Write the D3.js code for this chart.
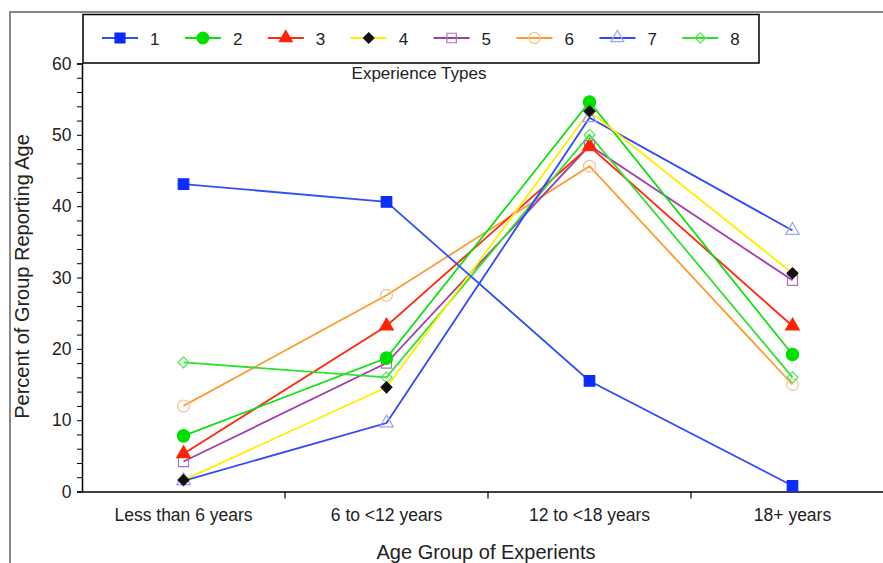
<!DOCTYPE html>
<html><head><meta charset="utf-8">
<script src="https://cdn.jsdelivr.net/npm/d3@7"></script>
<style>body{margin:0;background:#fff}svg{display:block;font-family:"Liberation Sans",Arial,sans-serif}</style>
</head><body><svg id="c" width="883" height="563"></svg>
<script>
const categories = ["Less than 6 years","6 to <12 years","12 to <18 years","18+ years"];
const seriesNames = ["1","2","3","4","5","6","7","8"];
const s1 = [43.1, 40.6, 15.5, 0.8];
const s2 = [7.8, 18.7, 54.6, 19.2];
const s3 = [5.3, 23.2, 48.4, 23.2];
const s4 = [1.6, 14.6, 53.3, 30.6];
const s5 = [4.2, 18.0, 48.5, 29.6];
const s6 = [12.0, 27.5, 45.6, 15.0];
const s7 = [1.5, 9.6, 52.4, 36.6];
const s8 = [18.1, 16.0, 50.0, 16.0];
const yTicks = [0,10,20,30,40,50,60];
const seriesValues = [s1,s2,s3,s4,s5,s6,s7,s8];

const styles = [
  {line:"#3050f0", sym:d3.symbolSquare, rot:0, fill:"#0a2cff", stroke:"#0a2cff", size:110},
  {line:"#10e010", sym:d3.symbolCircle, rot:0, fill:"#00e000", stroke:"#00e000", size:120},
  {line:"#ff2a10", sym:d3.symbolTriangle, rot:0, fill:"#ff2200", stroke:"#ff2200", size:80},
  {line:"#ffee00", sym:d3.symbolSquare, rot:45, fill:"#111111", stroke:"#111111", size:60},
  {line:"#a040a8", sym:d3.symbolSquare, rot:0, fill:"none", stroke:"#b070b8", size:100},
  {line:"#ff9a30", sym:d3.symbolCircle, rot:0, fill:"none", stroke:"#f2c494", size:110},
  {line:"#3048ff", sym:d3.symbolTriangle, rot:0, fill:"none", stroke:"#9aa4ff", size:80},
  {line:"#30e030", sym:d3.symbolSquare, rot:45, fill:"none", stroke:"#50e850", size:60}
];

const svg = d3.select("#c");
// outer frame
svg.append("line").attr("x1",10).attr("x2",883).attr("y1",12).attr("y2",12).attr("stroke","#888").attr("stroke-width",2);
svg.append("line").attr("x1",10).attr("x2",10).attr("y1",11).attr("y2",563).attr("stroke","#888").attr("stroke-width",2);

const mLeft = 82, mBottom = 491.5, mTop = 63.5;
const x = d3.scaleBand().domain(categories).range([mLeft, mLeft + 4*203]);
const y = d3.scaleLinear().domain([0,60]).range([mBottom, mTop]);

// y axis
const yAxis = d3.axisLeft(y).tickValues(d3.range(0,61,2)).tickSize(5)
  .tickFormat(d => yTicks.includes(d) ? d : "");
const ya = svg.append("g").attr("transform",`translate(${mLeft},0)`).call(yAxis);
ya.select(".domain").attr("stroke","#000").attr("stroke-width",1.5);
ya.selectAll(".tick line").attr("stroke","#000");
ya.selectAll(".tick text").attr("font-size",17.5).attr("fill","#222").attr("x",-10.5);

// x axis
const xAxis = d3.axisBottom(x).tickSize(0);
const xa = svg.append("g").attr("transform",`translate(0,${mBottom})`).call(xAxis);
xa.select(".domain").attr("stroke","#000").attr("stroke-width",1.5);
xa.selectAll(".tick text").attr("font-size",17.5).attr("fill","#222").attr("dy",0).attr("y",29);
// category boundary ticks
svg.append("g").selectAll("line").data(categories.slice(1)).join("line")
  .attr("x1",d=>x(d)).attr("x2",d=>x(d)).attr("y1",mBottom).attr("y2",mBottom+7)
  .attr("stroke","#000").attr("stroke-width",1.2);

// axis titles
svg.append("text").attr("transform",`translate(29,${(mTop+mBottom)/2 - 1}) rotate(-90)`)
  .attr("text-anchor","middle").attr("font-size",20).attr("fill","#222").text("Percent of Group Reporting Age");
svg.append("text").attr("x",486).attr("y",559).attr("text-anchor","middle").attr("font-size",20).attr("fill","#222").text("Age Group of Experients");

// legend
svg.append("rect").attr("x",83).attr("y",14.5).attr("width",676).attr("height",48.5)
  .attr("fill","#fff").attr("stroke","#000").attr("stroke-width",1.5);
const lg = svg.append("g").selectAll("g").data(seriesNames).join("g")
  .attr("transform",(d,i)=>`translate(${120 + i*82.9},38)`);
lg.append("line").attr("x1",-18).attr("x2",18).attr("stroke",(d,i)=>styles[i].line).attr("stroke-width",1.8);
lg.append("path").attr("d",(d,i)=>d3.symbol(styles[i].sym, styles[i].size*0.9)())
  .attr("transform",(d,i)=>`rotate(${styles[i].rot})`)
  .attr("fill",(d,i)=>styles[i].fill).attr("stroke",(d,i)=>styles[i].stroke).attr("stroke-width",1.2);
lg.append("text").attr("x",30).attr("y",6.5).attr("font-size",17).attr("fill","#222").text(d=>d);
svg.append("text").attr("x",419).attr("y",79).attr("text-anchor","middle").attr("font-size",17).attr("fill","#222").text("Experience Types");

// series
const cx = c => x(c) + x.bandwidth()/2;
const line = d3.line().x((d,i)=>cx(categories[i])).y(d=>y(d));
const order = [5,4,2,7,1,6,3,0];
order.forEach(si => {
  svg.append("path").datum(seriesValues[si]).attr("d",line).attr("fill","none")
    .attr("stroke",styles[si].line).attr("stroke-width",1.8);
});
order.forEach(si => {
  svg.append("g").selectAll("path").data(seriesValues[si]).join("path")
    .attr("transform",(d,i)=>`translate(${cx(categories[i])},${y(d)}) rotate(${styles[si].rot})`)
    .attr("d",d3.symbol(styles[si].sym, styles[si].size)())
    .attr("fill",styles[si].fill).attr("stroke",styles[si].stroke).attr("stroke-width",1.2);
});
</script></body></html>
